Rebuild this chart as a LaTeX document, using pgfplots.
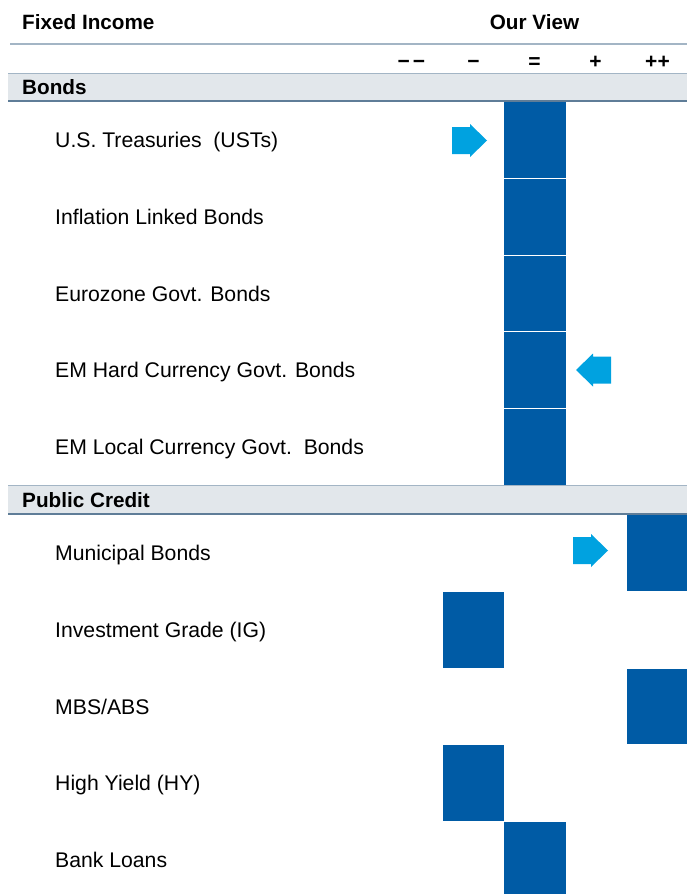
\documentclass[border=0pt]{standalone}
\usepackage{pgfplots}
\pgfplotsset{compat=1.18}
\usepackage{pgfplotstable}
\usepackage{fontspec}
\setmainfont{Liberation Sans}
\definecolor{boxblue}{RGB}{0,91,165}
\definecolor{arrowblue}{RGB}{0,162,224}
\definecolor{bandgray}{RGB}{226,231,235}
\definecolor{lineblue}{RGB}{163,181,197}
\definecolor{darkline}{RGB}{95,125,152}
\pgfdeclareplotmark{cell}{%
  \pgfpathrectangle{\pgfpoint{-30.7pt}{-37.9pt}}{\pgfpoint{61.4pt}{75.8pt}}%
  \pgfusepathqfill}
\pgfdeclareplotmark{rarrow}{%
  \pgfpathmoveto{\pgfpoint{-17.5pt}{-13.5pt}}%
  \pgfpathlineto{\pgfpoint{0.5pt}{-13.5pt}}%
  \pgfpathlineto{\pgfpoint{0.5pt}{-16.5pt}}%
  \pgfpathlineto{\pgfpoint{17.5pt}{0pt}}%
  \pgfpathlineto{\pgfpoint{0.5pt}{16.5pt}}%
  \pgfpathlineto{\pgfpoint{0.5pt}{13.5pt}}%
  \pgfpathlineto{\pgfpoint{-17.5pt}{13.5pt}}%
  \pgfpathclose\pgfusepathqfill}
\pgfdeclareplotmark{larrow}{%
  \pgfpathmoveto{\pgfpoint{17.5pt}{-13.5pt}}%
  \pgfpathlineto{\pgfpoint{-0.5pt}{-13.5pt}}%
  \pgfpathlineto{\pgfpoint{-0.5pt}{-16.5pt}}%
  \pgfpathlineto{\pgfpoint{-17.5pt}{0pt}}%
  \pgfpathlineto{\pgfpoint{-0.5pt}{16.5pt}}%
  \pgfpathlineto{\pgfpoint{-0.5pt}{13.5pt}}%
  \pgfpathlineto{\pgfpoint{17.5pt}{13.5pt}}%
  \pgfpathclose\pgfusepathqfill}
% row centre (px from top), view (-2 .. 2)
\pgfplotstableread{
y      view
139.9  0
216.7  0
293.5  0
370.3  0
447.1  0
552.9  2
629.7  -1
706.5  2
783.3  -1
860.1  0
}\views
% arrows: x position (px), y position (px)
\pgfplotstableread{
x      y
469.5  140.5
590.5  550.5
}\rightarrows
\pgfplotstableread{
x      y
593.5  370.0
}\leftarrows
\tikzset{hb/.style={anchor=base west, inner sep=0pt, font=\fontsize{20.7}{24}\selectfont\bfseries},
  sym/.style={anchor=base, inner sep=0pt, font=\fontsize{21}{24}\selectfont\bfseries},
  lab/.style={anchor=base west, inner sep=0pt, font=\fontsize{21.2}{25}\selectfont}}
\begin{document}
\begin{tikzpicture}
\begin{axis}[hide axis, scale only axis, width=687pt, height=894pt,
  xmin=0, xmax=687, ymin=0, ymax=894, y dir=reverse,
  clip marker paths=true]
% header
\draw[lineblue, line width=1.5pt] (10,44) -- (687,44);
\node[hb] at (22,29.5) {Fixed Income};
\node[hb, anchor=base] at (534.5,29.5) {Our View};
\node[sym] at (411.5,68) {−\kern3pt−};
\node[sym] at (473.5,68) {−};
\node[sym] at (534.5,68) {=};
\node[sym] at (595.5,68) {+};
\node[sym] at (657.5,68) {++};
% bands
\fill[bandgray] (8,73.5) rectangle (687,101);
\draw[lineblue, line width=1.2pt] (8,73.5) -- (687,73.5);
\draw[darkline, line width=1.2pt] (8,101) -- (687,101);
\node[hb] at (22,94) {Bonds};
\fill[bandgray] (8,485.5) rectangle (687,514);
\draw[lineblue, line width=1pt] (8,485.5) -- (687,485.5);
\draw[darkline, line width=1.2pt] (8,514) -- (687,514);
\node[hb] at (22,507) {Public Credit};
% row labels
\node[lab] at (55,147.4) {U.S. Treasuries\ \ (USTs)};
\node[lab] at (55,224.2) {Inflation Linked Bonds};
\node[lab] at (55,301.0) {Eurozone Govt. Bonds};
\node[lab] at (55,377.8) {EM Hard Currency Govt. Bonds};
\node[lab] at (55,454.6) {EM Local Currency Govt.\ \ Bonds};
\node[lab] at (55,560.4) {Municipal Bonds};
\node[lab] at (55,637.2) {Investment Grade (IG)};
\node[lab] at (55,714.0) {MBS/ABS};
\node[lab] at (55,790.8) {High Yield (HY)};
\node[lab] at (55,867.6) {Bank Loans};
% cells
\addplot[only marks, mark=cell, color=boxblue] table[x expr=535+61.25*\thisrow{view}, y=y] {\views};
% arrows
\addplot[only marks, mark=rarrow, color=arrowblue] table[x=x, y=y] {\rightarrows};
\addplot[only marks, mark=larrow, color=arrowblue] table[x=x, y=y] {\leftarrows};
\end{axis}
\pgfresetboundingbox
\path (current axis.south west) rectangle (current axis.north east);
\end{tikzpicture}
\end{document}
